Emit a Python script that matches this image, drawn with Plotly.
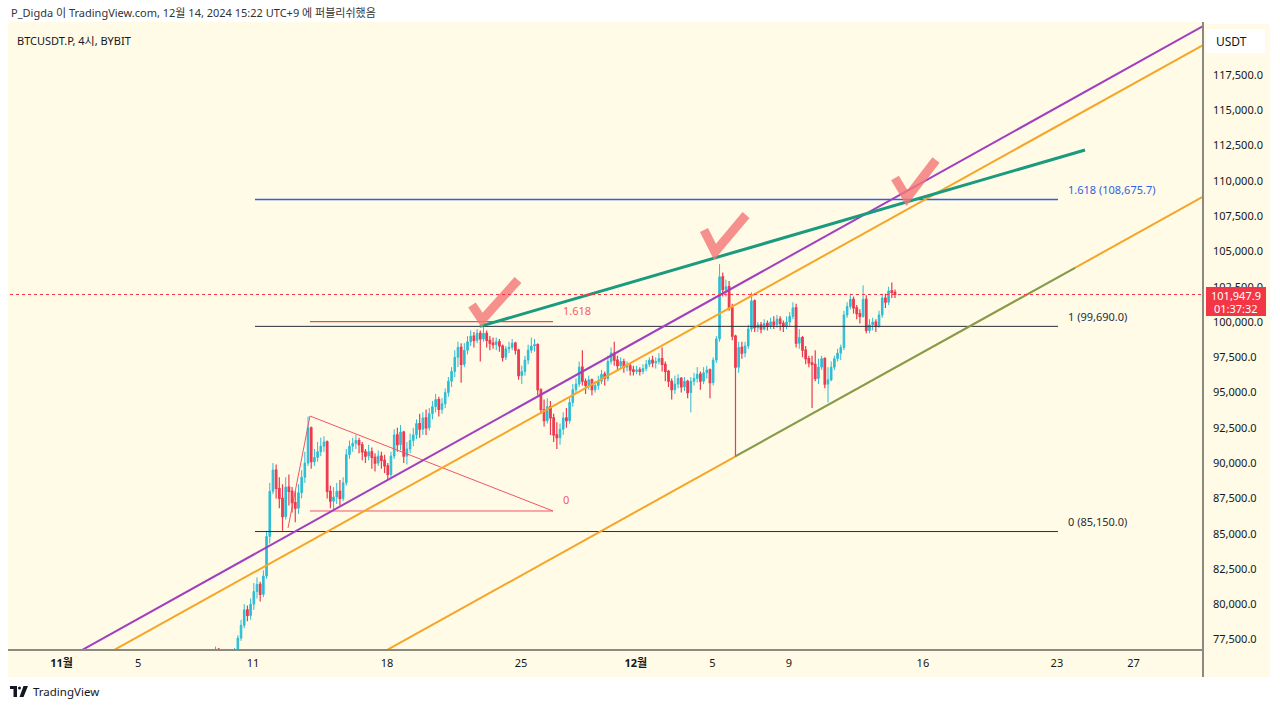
import pandas as pd
import plotly.graph_objects as go

# ---------------- data (BTCUSDT.P 4h, prices in thousands USDT) ----------------
start_time = "2024-11-09 01:00"
open_first_k = 76.6
close_k = [
    76.8, 76.6, 76.4, 76.5, 76.6, 76.5,        # Nov 9
    76.7, 77.6, 78.5, 79.6, 79.2, 80.0,        # Nov 10
    80.9, 81.4, 80.7, 82.0, 84.8, 88.0,        # Nov 11
    89.5, 88.2, 87.5, 86.2, 88.3, 88.0,        # Nov 12
    87.2, 86.8, 87.9, 89.0, 90.0, 92.5,        # Nov 13
    90.1, 90.4, 90.8, 91.2, 91.5, 88.0,        # Nov 14
    87.3, 87.6, 88.0, 87.5, 88.6, 90.6,        # Nov 15
    91.2, 91.4, 91.6, 91.3, 90.8, 90.5,        # Nov 16
    90.8, 90.4, 90.0, 90.5, 90.2, 89.8,        # Nov 17
    89.2, 90.5, 92.0, 91.3, 92.2, 90.5,        # Nov 18
    91.0, 91.6, 92.0, 92.8, 92.4, 93.2,        # Nov 19
    92.5, 93.5, 94.0, 94.5, 93.8, 94.2,        # Nov 20
    95.0, 95.8, 96.5, 97.5, 98.2, 97.0,        # Nov 21
    98.0, 98.6, 99.0, 98.7, 99.2, 98.8,        # Nov 22
    99.2, 98.7, 98.5, 98.4, 98.6, 98.3,        # Nov 23
    97.5, 98.1, 98.2, 98.5, 98.0, 96.2,        # Nov 24
    96.5, 97.3, 98.0, 98.3, 98.4, 95.2,        # Nov 25
    93.8, 93.0, 94.0, 93.2, 92.0, 91.8,        # Nov 26
    92.4, 93.2, 93.0, 94.3, 95.2, 95.6,        # Nov 27
    96.8, 95.8, 95.5, 95.9, 95.2, 95.5,        # Nov 28
    95.8, 96.3, 96.0, 97.2, 97.8, 97.3,        # Nov 29
    96.9, 97.2, 96.8, 96.9, 96.6, 96.5,        # Nov 30
    96.6, 96.5, 96.7, 97.0, 97.3, 97.1,        # Dec 1
    97.2, 97.4, 97.0, 96.5, 95.8, 95.2,        # Dec 2
    95.6, 96.0, 95.4, 95.8, 95.0, 95.8,        # Dec 3
    96.0, 96.3, 95.8, 96.4, 96.6, 95.7,        # Dec 4
    97.3, 98.8, 103.2, 102.3, 102.5, 101.0,    # Dec 5
    99.0, 96.8, 98.2, 97.8, 98.3, 99.5,        # Dec 6
    101.5, 99.6, 99.8, 99.5, 99.9, 99.7,       # Dec 7
    100.0, 99.8, 100.2, 99.9, 99.7, 100.0,     # Dec 8
    100.4, 101.0, 98.5, 98.9, 98.0, 97.4,      # Dec 9
    97.1, 97.0, 96.0, 96.8, 97.4, 95.6,        # Dec 10
    95.9, 96.8, 97.4, 97.8, 98.2, 100.5,       # Dec 11
    101.1, 101.6, 101.0, 100.6, 100.4, 101.6,  # Dec 12
    99.4, 99.8, 100.0, 99.7, 100.5, 101.7,     # Dec 13
    101.4, 102.2, 102.1, 101.9479,             # Dec 14
]
high_k = [
    77.0, 76.9, 76.7, 76.7, 76.8, 76.7,
    76.9, 77.8, 78.9, 80.0, 79.9, 80.4,
    81.5, 81.9, 81.6, 82.4, 85.2, 88.6,
    90.0, 89.9, 89.0, 88.5, 89.0, 89.2,
    88.3, 88.0, 88.5, 89.5, 90.8, 93.3,
    92.6, 91.0, 91.5, 91.8, 91.9, 91.6,
    88.4, 88.3, 88.6, 88.8, 89.0, 91.0,
    91.6, 91.8, 92.0, 91.8, 91.5, 91.0,
    91.3, 91.1, 90.7, 90.9, 90.8, 90.6,
    90.0, 90.8, 92.4, 92.5, 92.7, 92.3,
    91.5, 92.1, 92.5, 93.1, 93.5, 93.6,
    93.8, 93.9, 94.4, 94.9, 94.7, 94.6,
    95.3, 96.1, 96.8, 98.0, 98.6, 98.5,
    98.5, 99.0, 99.4, 99.3, 99.5, 99.4,
    99.65, 99.4, 99.0, 98.9, 98.9, 98.8,
    98.4, 98.3, 98.6, 98.8, 98.6, 98.1,
    96.9, 97.6, 98.4, 98.9, 98.8, 98.5,
    95.3, 94.5, 94.6, 94.4, 93.5, 92.9,
    92.8, 93.6, 93.9, 94.6, 95.6, 96.0,
    97.2, 98.0, 96.0, 96.2, 96.0, 95.8,
    96.2, 96.6, 96.5, 97.6, 98.2, 98.6,
    97.6, 97.5, 97.4, 97.2, 97.1, 96.9,
    96.9, 96.8, 97.0, 97.3, 97.5, 97.6,
    97.5, 97.8, 98.2, 97.2, 96.6, 96.0,
    96.2, 96.3, 96.1, 96.1, 95.9, 96.1,
    96.4, 96.8, 96.5, 96.8, 96.9, 96.7,
    97.5, 99.0, 104.1, 103.5, 103.0, 102.9,
    101.3, 99.1, 98.6, 98.6, 98.6, 99.8,
    102.1, 101.6, 100.0, 100.0, 100.2, 100.1,
    100.3, 100.4, 100.5, 100.4, 100.1, 100.4,
    100.7, 101.4, 101.3, 99.5, 99.0, 98.3,
    97.6, 97.6, 98.0, 97.4, 97.6, 97.5,
    96.8, 97.2, 97.6, 98.1, 98.4, 100.8,
    101.4, 102.0, 101.8, 101.2, 100.9, 102.6,
    101.9, 100.2, 100.3, 100.2, 100.8, 102.0,
    102.0, 102.5, 102.8, 102.3,
]
low_k = [
    76.5, 76.3, 76.2, 76.3, 76.4, 76.3,
    76.4, 76.6, 77.4, 78.3, 78.8, 78.9,
    79.6, 80.4, 80.2, 80.5, 81.8, 84.3,
    87.8, 87.5, 86.8, 85.2, 86.0, 87.0,
    86.5, 85.8, 86.4, 87.5, 88.6, 89.8,
    89.6, 89.8, 90.1, 90.5, 90.8, 87.5,
    86.8, 86.6, 87.1, 87.0, 87.3, 88.4,
    90.3, 90.8, 91.0, 90.7, 90.2, 90.0,
    90.2, 89.6, 89.4, 89.8, 89.6, 89.3,
    88.8, 89.0, 90.3, 90.8, 90.9, 90.0,
    89.9, 90.7, 91.2, 91.7, 91.8, 92.0,
    92.0, 92.3, 93.1, 93.6, 93.3, 93.5,
    93.9, 94.7, 95.4, 96.1, 96.8, 95.7,
    96.8, 97.7, 98.3, 98.2, 98.5, 97.2,
    98.6, 98.2, 98.0, 98.1, 98.0, 97.9,
    97.2, 97.3, 97.8, 98.0, 97.7, 95.9,
    95.6, 96.2, 97.0, 97.8, 97.9, 94.8,
    93.5, 92.6, 92.8, 92.0, 91.5, 91.0,
    91.3, 92.0, 92.5, 92.8, 94.0, 94.9,
    95.4, 95.5, 94.9, 95.2, 94.8, 95.0,
    95.2, 95.6, 95.5, 95.8, 97.0, 96.9,
    96.6, 96.7, 96.4, 96.5, 96.2, 96.2,
    96.3, 96.2, 96.3, 96.5, 96.8, 96.8,
    96.7, 97.0, 96.5, 95.8, 95.4, 94.5,
    94.9, 95.3, 95.0, 95.1, 94.6, 93.6,
    95.5, 95.7, 95.2, 95.6, 96.0, 94.6,
    95.5, 97.1, 98.6, 101.8, 101.8, 100.8,
    98.7, 90.5, 96.4, 97.4, 97.5, 98.1,
    99.3, 99.3, 99.3, 99.2, 99.4, 99.4,
    99.5, 99.5, 99.6, 99.4, 99.3, 99.5,
    99.7, 100.2, 98.2, 98.1, 97.5, 97.0,
    96.8, 93.9, 95.8, 95.6, 96.6, 95.3,
    94.3, 95.8, 96.6, 97.2, 97.3, 98.0,
    100.3, 100.9, 100.6, 100.2, 99.9, 100.3,
    99.2, 99.2, 99.4, 99.3, 99.6, 100.3,
    101.0, 101.2, 101.7, 101.7,
]

last_price = 101947.9
countdown = "01:37:32"

# Fibonacci extension levels
fib_levels = [108675.7, 99690.0, 85150.0]
fib_labels = ["1.618 (108,675.7)", "1 (99,690.0)", "0 (85,150.0)"]
fib_colors = ["#2F5FE8", "#2A2E39", "#2A2E39"]
fib_widths = [1.5, 1, 1]
fib_start = "2024-11-11 02:30"
fib_end = "2024-12-23 01:26"
fib_label_x = "2024-12-23 11:00"

# axis ticks
price_ticks = [77500, 80000, 82500, 85000, 87500, 90000, 92500, 95000, 97500,
               100000, 102500, 105000, 107500, 110000, 112500, 115000, 117500]
date_ticks = ["2024-11-01", "2024-11-05", "2024-11-11", "2024-11-18", "2024-11-25",
              "2024-12-01", "2024-12-05", "2024-12-09", "2024-12-16", "2024-12-23", "2024-12-27"]
date_tick_text = ["<b>11월</b>", "5", "11", "18", "25", "<b>12월</b>", "5", "9", "16", "23", "27"]

# hand-drawn chart objects (time, price)
purple_t = ["2024-10-28 09:07", "2025-01-02 02:10"]
purple_p = [73211, 122820]
orange_up_t = ["2024-10-30 00:58", "2025-01-02 02:10"]
orange_up_p = [73211, 121474]
orange_lo_t = ["2024-11-13 07:10", "2025-01-02 02:10"]
orange_lo_p = [73211, 110730]
teal_up_t = ["2024-11-22 20:38", "2024-12-24 11:16"]
teal_up_p = [99690, 112190]
teal_lo_t = ["2024-12-06 04:20", "2024-12-23 22:47"]
teal_lo_p = [90470, 103840]
tri_t = ["2024-11-12 19:54", "2024-11-13 23:28", "2024-11-26 16:10", "2024-11-13 23:28"]
tri_p = [85401, 93338, 86606, 86606]
red_fib_t = ["2024-11-13 23:28", "2024-11-26 16:10"]
red_fib_p = [100030, 86606]
red_fib_txt = ["1.618", "0"]
red_fib_label_t = ["2024-11-27 02:10", "2024-11-27 02:30"]
check_marks = [
    (["2024-11-22 10:36", "2024-11-22 23:08", "2024-11-24 20:17"], [101205, 100142, 102977]),
    (["2024-12-04 13:30", "2024-12-05 03:19", "2024-12-06 18:12"], [106520, 104961, 107583]),
    (["2024-12-14 13:00", "2024-12-15 04:03", "2024-12-16 16:25"], [110205, 108788, 111481]),
]

# ---------------- figure ----------------
BG = "#FFFBE6"
UP = "#2CBDD6"
DOWN = "#EC3B50"
TXT = "#131722"
FONT = "Noto Sans, Noto Sans CJK KR, sans-serif"

W, H = 1280, 709
PL, PR, PT, PB = 10, 1203, 22, 650


def px(x):
    return (x - PL) / (PR - PL)


def py(y):
    return (PB - y) / (PB - PT)


times = pd.date_range(start_time, periods=len(close_k), freq="4h")
closes = [v * 1000 for v in close_k]
opens = [open_first_k * 1000] + closes[:-1]
highs = [v * 1000 for v in high_k]
lows = [v * 1000 for v in low_k]

fig = go.Figure()


def line(t, p, color, width, dash=None):
    fig.add_trace(go.Scatter(x=t, y=p, mode="lines", hoverinfo="skip",
                             line=dict(color=color, width=width, dash=dash)))


# fib levels
for lvl, col, wd in zip(fib_levels, fib_colors, fib_widths):
    line([fib_start, fib_end], [lvl, lvl], col, wd)

# red triangle + its fib lines
line(tri_t, tri_p, "#EF5566", 1)
line([red_fib_t[0], red_fib_t[1]], [red_fib_p[0], red_fib_p[0]], "#F04858", 1.3)

# channels
line(orange_up_t, orange_up_p, "#F6A526", 2)
line(orange_lo_t, orange_lo_p, "#F6A526", 2)
line(purple_t, purple_p, "#A040C0", 2)
line(teal_lo_t, teal_lo_p, "rgba(30,150,120,0.55)", 2)

fig.add_trace(go.Candlestick(
    x=times, open=opens, high=highs, low=lows, close=closes,
    increasing=dict(line=dict(color=UP, width=1), fillcolor=UP),
    decreasing=dict(line=dict(color=DOWN, width=1.2), fillcolor=DOWN),
    whiskerwidth=0, hoverinfo="skip"))

line(teal_up_t, teal_up_p, "#1A9A7E", 3)

for ct, cp in check_marks:
    line(ct, cp, "rgba(243,120,120,0.82)", 9)

shapes = [
    dict(type="rect", xref="paper", yref="paper", x0=px(8), x1=px(1270), y0=py(677), y1=py(24),
         fillcolor=BG, line=dict(width=0), layer="below"),
    dict(type="line", xref="paper", yref="y", x0=0, x1=1, y0=last_price, y1=last_price,
         line=dict(color="#F23645", width=1, dash="dot")),
    dict(type="line", xref="paper", yref="paper", x0=px(8), x1=px(PR), y0=0, y1=0,
         line=dict(color="#8C897E", width=2)),
    dict(type="line", xref="paper", yref="paper", x0=1, x1=1, y0=py(677), y1=py(PT),
         line=dict(color="#8C897E", width=2)),
    dict(type="rect", xref="paper", yref="paper", x0=px(1206), x1=px(1265), y0=py(53), y1=py(29),
         fillcolor="white", line=dict(width=0)),
    dict(type="rect", xref="paper", yref="paper", x0=px(1206), x1=px(1266), y0=py(316), y1=py(287),
         fillcolor="#F23645", line=dict(width=0)),
    # TradingView logo
    dict(type="rect", xref="paper", yref="paper", x0=px(10), x1=px(17), y0=py(689), y1=py(686),
         fillcolor=TXT, line=dict(width=0)),
    dict(type="rect", xref="paper", yref="paper", x0=px(13.5), x1=px(17), y0=py(697), y1=py(686),
         fillcolor=TXT, line=dict(width=0)),
    dict(type="circle", xref="paper", yref="paper", x0=px(18), x1=px(21), y0=py(689.5), y1=py(686.5),
         fillcolor=TXT, line=dict(width=0)),
    dict(type="path", xref="paper", yref="paper",
         path=f"M {px(23.5)},{py(686)} L {px(28)},{py(686)} L {px(23.5)},{py(697)} L {px(19.5)},{py(697)} Z",
         fillcolor=TXT, line=dict(width=0)),
]

annotations = [
    dict(xref="paper", yref="paper", x=px(9), y=py(13), xanchor="left", yanchor="middle",
         text="P_Digda 이 TradingView.com, 12월 14, 2024 15:22 UTC+9 에 퍼블리쉬했음",
         font=dict(size=11, color="#333"), showarrow=False),
    dict(xref="paper", yref="paper", x=px(15), y=py(40), xanchor="left", yanchor="middle",
         text="BTCUSDT.P, 4시, BYBIT", font=dict(size=11, color=TXT), showarrow=False),
    dict(xref="paper", yref="paper", x=px(1214), y=py(41), xanchor="left", yanchor="middle",
         text="USDT", font=dict(size=12, color=TXT), showarrow=False),
    dict(xref="paper", yref="paper", x=px(1236), y=py(295), xanchor="center", yanchor="middle",
         text=f"{last_price:,.1f}", font=dict(size=11, color="white"), showarrow=False),
    dict(xref="paper", yref="paper", x=px(1236), y=py(308.5), xanchor="center", yanchor="middle",
         text=countdown, font=dict(size=11, color="white"), showarrow=False),
    dict(xref="paper", yref="paper", x=px(31), y=py(691), xanchor="left", yanchor="middle",
         text="TradingView", font=dict(size=11.5, color=TXT), showarrow=False),
]
for lvl, lab, col in zip(fib_levels, fib_labels, fib_colors):
    annotations.append(dict(x=fib_label_x, y=lvl, xanchor="left", yanchor="middle", yshift=10,
                            text=lab, font=dict(size=11, color=col), showarrow=False))
for t, p, s in zip(red_fib_label_t, red_fib_p, red_fib_txt):
    annotations.append(dict(x=t, y=p, xanchor="left", yanchor="middle", yshift=11,
                            text=s, font=dict(size=11, color="#EF5B6A"), showarrow=False))

fig.update_layout(
    width=W, height=H, autosize=False,
    margin=dict(l=PL, r=W - PR, t=PT, b=H - PB, pad=0),
    paper_bgcolor="white", plot_bgcolor=BG,
    font=dict(family=FONT, size=11, color=TXT),
    showlegend=False, hovermode=False,
    shapes=shapes, annotations=annotations,
    xaxis=dict(type="date", range=["2024-10-29 07:18", "2024-12-30 15:13"],
               tickvals=date_ticks, ticktext=date_tick_text, showgrid=False, zeroline=False,
               showline=False, ticks="", tickfont=dict(size=11, color=TXT),
               ticklabelstandoff=5, rangeslider=dict(visible=False), fixedrange=True),
    yaxis=dict(side="right", range=[76754.6, 121261], tickvals=price_ticks,
               ticktext=[f"{v:,.1f}" for v in price_ticks], showgrid=False, zeroline=False,
               showline=False, ticks="", tickfont=dict(size=11, color=TXT),
               ticklabelstandoff=9, fixedrange=True),
)

fig.write_html("out.html", config={"displayModeBar": False},
               post_script="document.body.style.margin='0';document.body.style.padding='0';")
